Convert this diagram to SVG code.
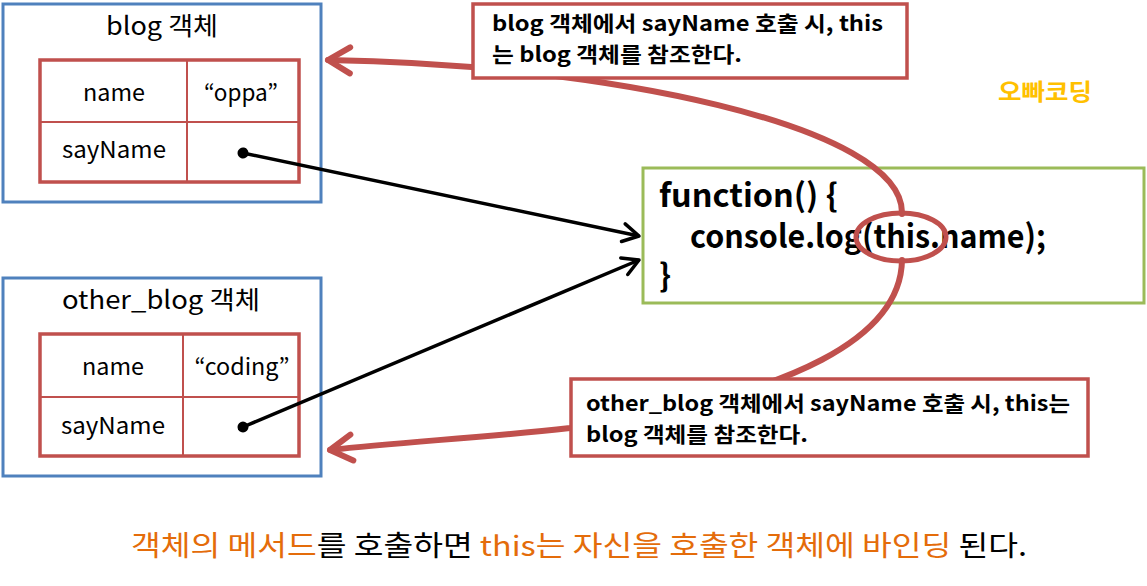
<svg xmlns="http://www.w3.org/2000/svg" width="1147" height="586" viewBox="0 0 1147 586">
<style>
  text { font-family: "Noto Sans CJK KR", "Noto Sans", sans-serif; fill: #000; }
  .obj { fill: #fff; stroke: #4F81BD; stroke-width: 3; }
  .tbl { fill: #fff; stroke: #C0504D; stroke-width: 3.5; }
  .grid { stroke: #C0504D; stroke-width: 2; fill: none; }
  .title { font-size: 25px; text-anchor: middle; }
  .cell { font-size: 23px; text-anchor: middle; }
  .fn { fill: #fff; stroke: #9BBB59; stroke-width: 3; }
  .code { font-size: 32px; font-weight: bold; }
  .callout { fill: #fff; stroke: #C0504D; stroke-width: 3.5; }
  .ctext { font-size: 21px; font-weight: bold; }
  .ptr { fill: none; stroke: #000; stroke-width: 3.5; }
  .ref { fill: none; stroke: #C0504D; stroke-width: 6; stroke-linecap: round; }
  .orange { fill: #E46C0A; }
</style>
<defs>
  <marker id="dot" markerUnits="userSpaceOnUse" viewBox="-6 -6 12 12" refX="0" refY="0" markerWidth="12" markerHeight="12" orient="auto">
    <circle cx="0" cy="0" r="5.5" fill="#000"/>
  </marker>
  <marker id="chev" markerUnits="userSpaceOnUse" viewBox="-20 -12 24 24" refX="0" refY="0" markerWidth="24" markerHeight="24" orient="auto" overflow="visible">
    <path d="M-16,-9 L0,0 L-16,9" fill="none" stroke="#000" stroke-width="3.5" stroke-linecap="round" stroke-linejoin="round"/>
  </marker>
  <marker id="redchev" markerUnits="userSpaceOnUse" viewBox="-30 -20 36 40" refX="0" refY="0" markerWidth="36" markerHeight="40" orient="auto-start-reverse" overflow="visible">
    <path d="M-22,-13 L0,0 L-22,13" fill="none" stroke="#C0504D" stroke-width="6" stroke-linecap="round" stroke-linejoin="round"/>
  </marker>
</defs>

<rect width="1147" height="586" fill="#fff"/>

<g id="blog">
  <rect class="obj" x="3" y="4" width="318" height="198"/>
  <text class="title" x="162" y="35" textLength="112" lengthAdjust="spacingAndGlyphs">blog 객체</text>
  <rect class="tbl" x="40" y="60" width="259" height="122"/>
  <line class="grid" x1="187" y1="60" x2="187" y2="182"/>
  <line class="grid" x1="40" y1="122" x2="299" y2="122"/>
  <text class="cell" x="114" y="101" textLength="62" lengthAdjust="spacingAndGlyphs">name</text>
  <text class="cell" x="241" y="101" textLength="74" lengthAdjust="spacingAndGlyphs">“oppa”</text>
  <text class="cell" x="114" y="158" textLength="104" lengthAdjust="spacingAndGlyphs">sayName</text>
</g>

<g id="other_blog">
  <rect class="obj" x="3" y="278" width="318" height="198"/>
  <text class="title" x="161" y="309" textLength="198" lengthAdjust="spacingAndGlyphs">other_blog 객체</text>
  <rect class="tbl" x="40" y="334" width="259" height="122"/>
  <line class="grid" x1="183" y1="334" x2="183" y2="456"/>
  <line class="grid" x1="40" y1="397" x2="299" y2="397"/>
  <text class="cell" x="113" y="375" textLength="62" lengthAdjust="spacingAndGlyphs">name</text>
  <text class="cell" x="242" y="375" textLength="95" lengthAdjust="spacingAndGlyphs">“coding”</text>
  <text class="cell" x="113" y="434" textLength="104" lengthAdjust="spacingAndGlyphs">sayName</text>
</g>

<g id="function">
  <rect class="fn" x="643" y="168" width="501" height="135"/>
  <text class="code" x="659" y="207" textLength="179" lengthAdjust="spacingAndGlyphs">function() {</text>
  <text class="code" x="690" y="248" textLength="356" lengthAdjust="spacingAndGlyphs">console.log(this.name);</text>
  <text class="code" x="659" y="287">}</text>
</g>

<g id="connectors">
  <line class="ptr" x1="243" y1="153" x2="639" y2="236" marker-start="url(#dot)" marker-end="url(#chev)"/>
  <line class="ptr" x1="243" y1="427" x2="639" y2="260" marker-start="url(#dot)" marker-end="url(#chev)"/>
  <path class="ref" d="M902,214 C905,125 600,64 328,60" marker-end="url(#redchev)"/>
  <path class="ref" d="M902,260 C901,335 800,395 570,428 C480,438 400,442 330,450" marker-end="url(#redchev)"/>
</g>

<g id="this-highlight">
  <ellipse cx="901" cy="237" rx="45" ry="24" fill="none" stroke="#C0504D" stroke-width="5"/>
</g>

<g id="callout-blog">
  <rect class="callout" x="473" y="4" width="434" height="74"/>
  <text class="ctext" x="492" y="31" textLength="391" lengthAdjust="spacingAndGlyphs">blog 객체에서 sayName 호출 시, this</text>
  <text class="ctext" x="492" y="62" textLength="250" lengthAdjust="spacingAndGlyphs">는 blog 객체를 참조한다.</text>
</g>

<g id="callout-other_blog">
  <rect class="callout" x="571" y="379" width="517" height="77"/>
  <text class="ctext" x="586" y="411" textLength="484" lengthAdjust="spacingAndGlyphs">other_blog 객체에서 sayName 호출 시, this는</text>
  <text class="ctext" x="586" y="442" textLength="222" lengthAdjust="spacingAndGlyphs">blog 객체를 참조한다.</text>
</g>

<g id="brand">
  <text x="1045" y="100" font-size="23" font-weight="bold" text-anchor="middle" style="fill:#FFC000" textLength="94" lengthAdjust="spacingAndGlyphs">오빠코딩</text>
</g>

<g id="caption">
  <text x="131" y="556" font-size="28" textLength="896" lengthAdjust="spacingAndGlyphs"><tspan class="orange">객체의 메서드</tspan>를 호출하면 <tspan class="orange">this는 자신을 호출한 객체에 바인딩</tspan> 된다.</text>
</g>
</svg>
